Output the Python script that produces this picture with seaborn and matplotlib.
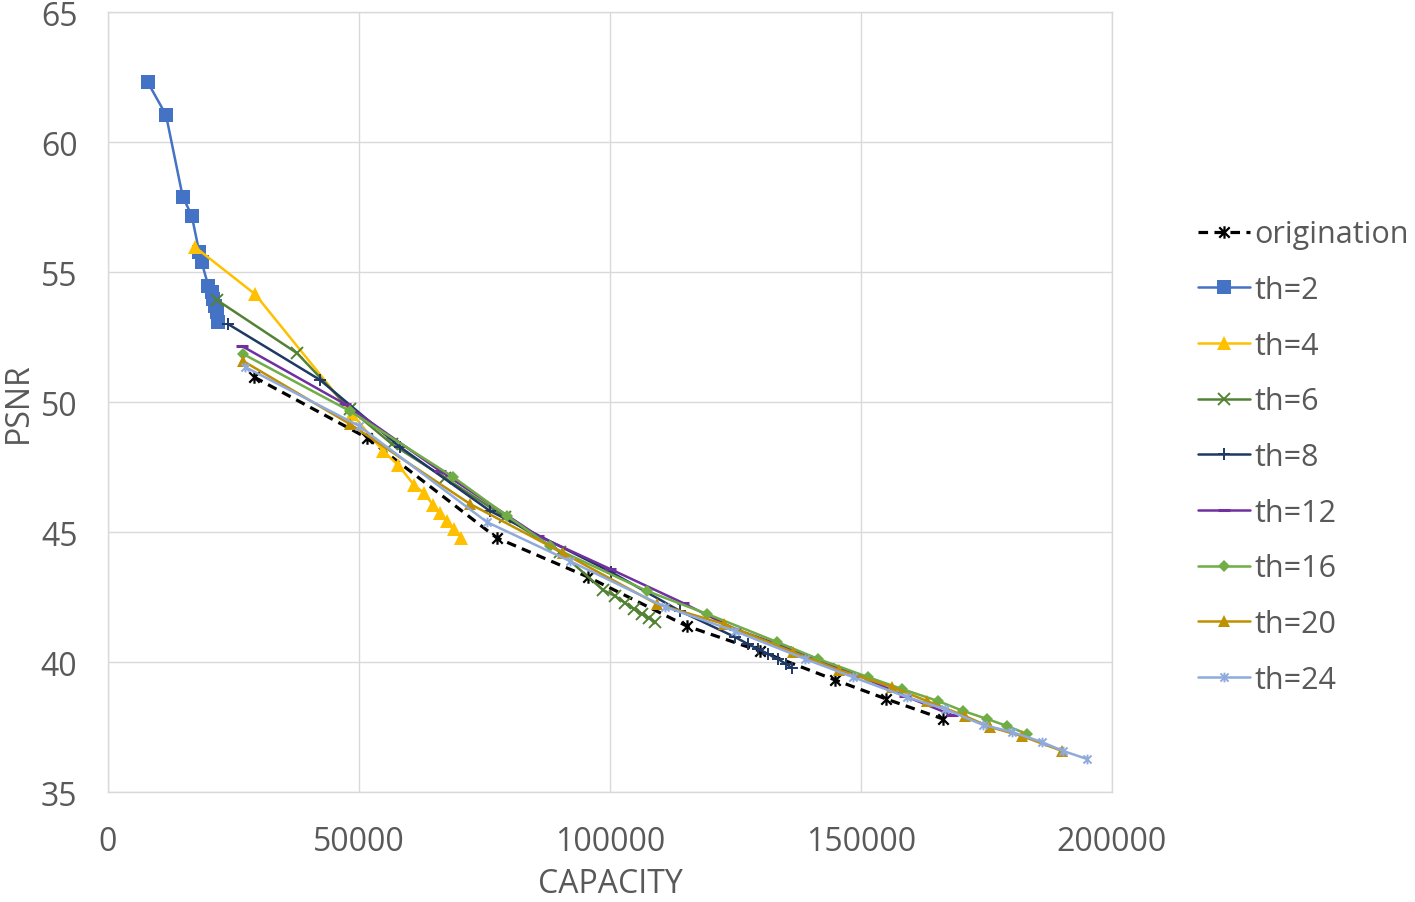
import numpy as np
import pandas as pd
import matplotlib
matplotlib.use("Agg")
import matplotlib.pyplot as plt
from matplotlib.path import Path
import seaborn as sns

# ---------------- data ----------------
orig_x = [29083, 51593, 77489, 95616, 115337, 129878, 144818, 154978, 166332]
orig_y = [50.96, 48.62, 44.77, 43.27, 41.38, 40.42, 39.31, 38.58, 37.81]

th2_x = [7908, 11554, 14880, 16673, 18187, 18665, 19980, 20657, 20916, 21314, 21653, 21912]
th2_y = [62.30, 61.04, 57.90, 57.17, 55.76, 55.37, 54.47, 54.23, 53.96, 53.69, 53.46, 53.08]

th4_x = [17330, 29282, 48605, 54780, 57768, 60955, 62947, 64740, 66134, 67529, 68923, 70318]
th4_y = [55.96, 54.15, 49.54, 48.12, 47.58, 46.81, 46.50, 46.04, 45.73, 45.42, 45.12, 44.77]

th6_x = [21713, 37649, 48206, 56573, 67130, 79082, 90038, 98604, 100994, 102986, 104779, 106373, 107767, 108962]
th6_y = [53.92, 51.88, 49.73, 48.38, 47.08, 45.58, 44.23, 42.77, 42.54, 42.27, 42.04, 41.85, 41.69, 41.54]

th8_x = [23904, 42230, 58166, 76094, 100198, 113942, 124898, 127488, 129480, 131472, 133464, 135058, 136253]
th8_y = [53.00, 50.85, 48.27, 45.81, 43.46, 41.96, 40.96, 40.69, 40.50, 40.31, 40.12, 39.92, 39.77]

th12_x = [26693, 47210, 66134, 85656, 99998, 114540, 124898, 134858, 143424, 149798, 158762, 168125]
th12_y = [52.15, 49.92, 47.35, 44.85, 43.58, 42.27, 41.27, 40.58, 39.92, 39.46, 38.69, 37.96]

th16_x = [26892, 48206, 68724, 79481, 88046, 107369, 119321, 133265, 141432, 151392, 158165, 165336, 170316, 175097, 179081, 183065]
th16_y = [51.85, 49.65, 47.12, 45.62, 44.46, 42.73, 41.85, 40.77, 40.12, 39.42, 38.96, 38.50, 38.12, 37.81, 37.54, 37.23]

th20_x = [26892, 48206, 72110, 90636, 109361, 122707, 136452, 145615, 156173, 163145, 170714, 175694, 182069, 190037]
th20_y = [51.58, 49.15, 46.08, 44.19, 42.23, 41.46, 40.38, 39.69, 39.04, 38.50, 37.92, 37.50, 37.15, 36.58]

th24_x = [27290, 49999, 75497, 92030, 110954, 124898, 138842, 148404, 159161, 166730, 174300, 180077, 186053, 190236, 195017]
th24_y = [51.35, 49.08, 45.38, 43.88, 42.12, 41.19, 40.12, 39.42, 38.65, 38.19, 37.58, 37.31, 36.92, 36.58, 36.27]

series_names = ["origination", "th=2", "th=4", "th=6", "th=8", "th=12", "th=16", "th=20", "th=24"]
series_x = [orig_x, th2_x, th4_x, th6_x, th8_x, th12_x, th16_x, th20_x, th24_x]
series_y = [orig_y, th2_y, th4_y, th6_y, th8_y, th12_y, th16_y, th20_y, th24_y]

x_ticks = [0, 50000, 100000, 150000, 200000]
y_ticks = [35, 40, 45, 50, 55, 60, 65]

# ---------------- styles ----------------
asterisk = Path([(-1, -1), (1, 1), (-1, 1), (1, -1), (0, -1.2), (0, 1.2)],
                [Path.MOVETO, Path.LINETO, Path.MOVETO, Path.LINETO, Path.MOVETO, Path.LINETO])

styles = {
    "origination": dict(color="#000000", marker=asterisk, ms=9, mew=1.6, ls=(0, (3, 2)), lw=2.3),
    "th=2": dict(color="#4472C4", marker="s", ms=10.5, mew=0, ls="-", lw=1.8),
    "th=4": dict(color="#FFC000", marker="^", ms=10.5, mew=0, ls="-", lw=1.8),
    "th=6": dict(color="#548235", marker="x", ms=8, mew=1.4, ls="-", lw=1.8),
    "th=8": dict(color="#203864", marker="+", ms=9, mew=1.4, ls="-", lw=1.8),
    "th=12": dict(color="#7030A0", marker="_", ms=8, mew=2.2, ls="-", lw=1.8),
    "th=16": dict(color="#70AD47", marker="D", ms=6.5, mew=0, ls="-", lw=1.8),
    "th=20": dict(color="#BF9000", marker="^", ms=8.5, mew=0, ls="-", lw=1.8),
    "th=24": dict(color="#8FAADC", marker=asterisk, ms=7, mew=1.4, ls="-", lw=1.8),
}

sns.set_style("white")
plt.rcParams["font.family"] = ["Open Sans", "DejaVu Sans"]

fig = plt.figure(figsize=(14.15, 9.03), dpi=100)
ax = fig.add_axes([108 / 1415, 1 - 793 / 903, (1112 - 108) / 1415, (793 - 13) / 903])

for name, xs, ys in zip(series_names, series_x, series_y):
    st = styles[name]
    df = pd.DataFrame({"CAPACITY": xs, "PSNR": ys})
    sns.lineplot(data=df, x="CAPACITY", y="PSNR", ax=ax, sort=False, estimator=None,
                 color=st["color"], marker=st["marker"], markersize=st["ms"],
                 markeredgewidth=st["mew"], markeredgecolor=st["color"],
                 markerfacecolor=st["color"], linestyle=st["ls"], linewidth=st["lw"],
                 label=name)

ax.set_xlim(0, 200000)
ax.set_ylim(35, 65)
ax.set_xticks(x_ticks)
ax.set_yticks(y_ticks)
ax.set_xticklabels([str(v) for v in x_ticks])
ax.set_yticklabels([str(v) for v in y_ticks])
ax.grid(True, color="#D9D9D9", linewidth=1.0)
ax.set_axisbelow(True)
for sp in ax.spines.values():
    sp.set_visible(True)
    sp.set_color("#D9D9D9")
    sp.set_linewidth(1.0)
ax.tick_params(axis="both", length=0, labelsize=23, labelcolor="#595959")
ax.tick_params(axis="x", pad=24)
ax.tick_params(axis="y", pad=22)
ax.set_xlabel("CAPACITY", fontsize=23, color="#595959", labelpad=6)
ax.set_ylabel("PSNR", fontsize=23, color="#595959", labelpad=4)

handles, labels = ax.get_legend_handles_labels()
ax.legend(handles, labels, loc="center left", bbox_to_anchor=(1186 / 1415, 1 - 458 / 903),
          bbox_transform=fig.transFigure, frameon=False, fontsize=22,
          labelcolor="#595959", handlelength=1.7, handletextpad=0.15, labelspacing=0.84,
          borderaxespad=0)

fig.savefig("out.png", dpi=100)
